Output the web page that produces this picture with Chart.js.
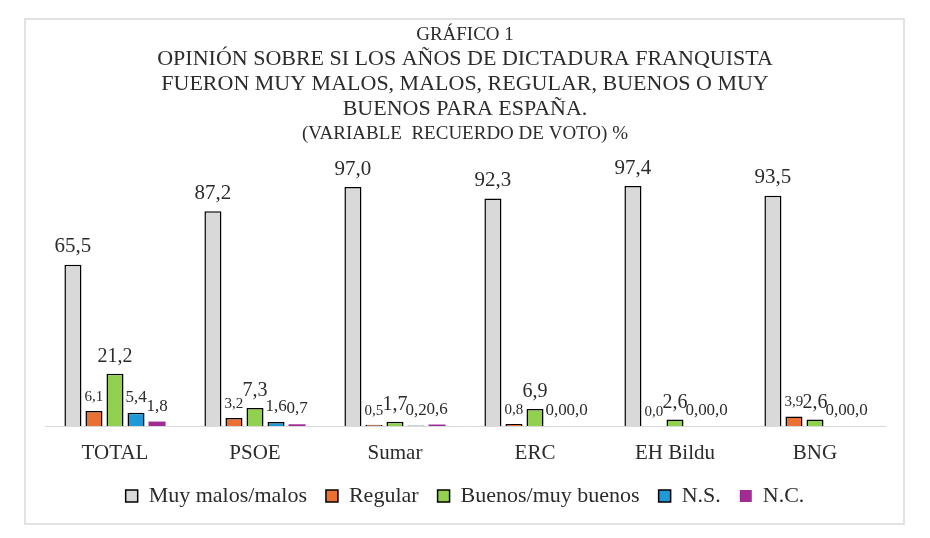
<!DOCTYPE html>
<html lang="es">
<head>
    <meta charset="UTF-8">
    <title>Gráfico 1 - Dictadura franquista</title>
    <style>
        body {
            margin: 0;
            padding: 0;
            background-color: #fff;
        }
        #wrap {
            width: 930px;
            height: 538px;
        }
    </style>
    <script src="https://cdn.jsdelivr.net/npm/chart.js"></script>
</head>
<body>
    <div id="wrap"><canvas id="opinionChart" width="930" height="538"></canvas></div>
    <script>
        // Categories (party of remembered vote)
        const categories = ['TOTAL', 'PSOE', 'Sumar', 'ERC', 'EH Bildu', 'BNG'];

        // Series values (%)
        const muyMalosMalos = [65.5, 87.2, 97.0, 92.3, 97.4, 93.5];
        const regular = [6.1, 3.2, 0.5, 0.8, 0.0, 3.9];
        const buenosMuyBuenos = [21.2, 7.3, 1.7, 6.9, 2.6, 2.6];
        const noSabe = [5.4, 1.6, 0.2, 0.0, 0.0, 0.0];
        const noContesta = [1.8, 0.7, 0.6, 0.0, 0.0, 0.0];

        const seriesNames = ['Muy malos/malos', 'Regular', 'Buenos/muy buenos', 'N.S.', 'N.C.'];

        // Title lines
        const titleLines = [
            'GRÁFICO 1',
            'OPINIÓN SOBRE SI LOS AÑOS DE DICTADURA FRANQUISTA',
            'FUERON MUY MALOS, MALOS, REGULAR, BUENOS O MUY',
            'BUENOS PARA ESPAÑA.',
            '(VARIABLE  RECUERDO DE VOTO) %'
        ];

        const SERIF = '"Liberation Serif", "Times New Roman", serif';
        const TEXT_COLOR = '#2b2b2b';

        // Frame + title drawn as a block of centred lines with mixed sizes
        const titleBlock = {
            id: 'titleBlock',
            beforeDraw(chart) {
                const c = chart.ctx;
                c.save();
                c.fillStyle = '#ffffff';
                c.fillRect(0, 0, chart.width, chart.height);
                // outer frame
                c.strokeStyle = '#d9d9d9';
                c.lineWidth = 1.5;
                c.strokeRect(25, 19, 879, 505);
                c.restore();
            },
            afterDraw(chart) {
                const c = chart.ctx;
                const sizes = [19, 22, 22, 22, 19];
                const baselines = [40, 65, 90, 115, 139];
                c.save();
                c.fillStyle = TEXT_COLOR;
                c.textAlign = 'center';
                c.textBaseline = 'alphabetic';
                titleLines.forEach((line, i) => {
                    c.font = sizes[i] + 'px ' + SERIF;
                    c.fillText(line, 465, baselines[i]);
                });
                c.restore();
            }
        };

        // Value labels above each bar, comma as decimal separator
        const labelSizes = [21, 15, 20, 17, 17];
        const barLabels = {
            id: 'barLabels',
            afterDatasetsDraw(chart) {
                const c = chart.ctx;
                c.save();
                c.fillStyle = TEXT_COLOR;
                c.textAlign = 'center';
                c.textBaseline = 'alphabetic';
                chart.data.datasets.forEach((ds, di) => {
                    const meta = chart.getDatasetMeta(di);
                    const size = labelSizes[di];
                    c.font = size + 'px ' + SERIF;
                    meta.data.forEach((bar, i) => {
                        const txt = ds.data[i].toFixed(1).replace('.', ',');
                        c.fillText(txt, bar.x, bar.y - (4 + size * 0.4));
                    });
                });
                c.restore();
            }
        };

        const ctx = document.getElementById('opinionChart').getContext('2d');
        new Chart(ctx, {
            type: 'bar',
            data: {
                labels: categories,
                datasets: [
                    { label: seriesNames[0], data: muyMalosMalos, backgroundColor: '#d9d9d9', borderColor: '#000', borderWidth: 1.5 },
                    { label: seriesNames[1], data: regular, backgroundColor: '#e97132', borderColor: '#000', borderWidth: 1.5 },
                    { label: seriesNames[2], data: buenosMuyBuenos, backgroundColor: '#92d050', borderColor: '#000', borderWidth: 1.5 },
                    { label: seriesNames[3], data: noSabe, backgroundColor: '#1e9bd7', borderColor: '#000', borderWidth: 1.5 },
                    { label: seriesNames[4], data: noContesta, backgroundColor: '#a02b93', borderColor: '#a02b93', borderWidth: 0 }
                ]
            },
            options: {
                responsive: false,
                animation: false,
                categoryPercentage: 0.751,
                barPercentage: 0.81,
                layout: {
                    padding: { top: 155, left: 45, right: 45, bottom: 21 }
                },
                plugins: {
                    title: { display: false },
                    tooltip: { enabled: false },
                    legend: {
                        position: 'bottom',
                        labels: {
                            boxWidth: 12,
                            boxHeight: 12,
                            padding: 19,
                            color: TEXT_COLOR,
                            font: { family: SERIF, size: 22 }
                        }
                    }
                },
                scales: {
                    x: {
                        grid: { display: false, drawTicks: false },
                        border: { display: true, color: '#d9d9d9', width: 1 },
                        ticks: {
                            padding: 15,
                            color: TEXT_COLOR,
                            font: { family: SERIF, size: 21 }
                        },
                        // keep the axis band tight so the legend sits close below
                        afterFit(scale) {
                            scale.height = 40;
                        }
                    },
                    y: {
                        display: false,
                        min: 0,
                        max: 110
                    }
                }
            },
            plugins: [titleBlock, barLabels]
        });
    </script>
</body>
</html>
